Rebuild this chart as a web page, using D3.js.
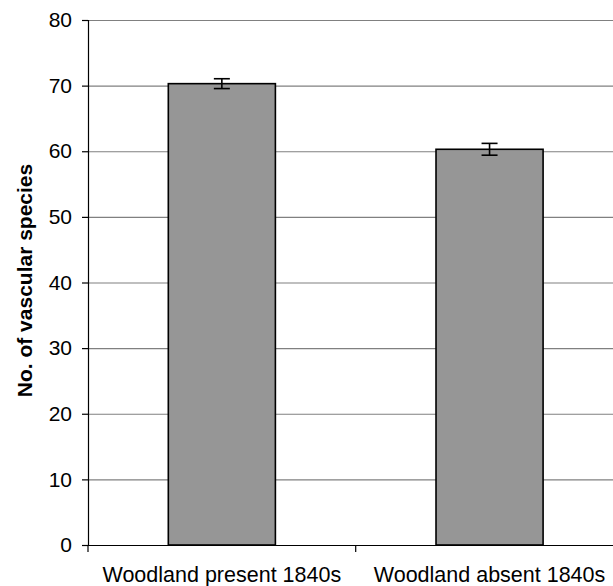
<!DOCTYPE html>
<html>
<head>
<meta charset="utf-8">
<script src="https://cdn.jsdelivr.net/npm/d3@7"></script>
<style>
  html, body { margin: 0; padding: 0; background: #fff; }
  svg { display: block; }
  text { font-family: "Liberation Sans", Arial, sans-serif; fill: #000; }
</style>
</head>
<body>
<svg id="chart" width="613" height="586"></svg>
<script>
const categories = ["Woodland present 1840s", "Woodland absent 1840s"];
const values = [70.3, 60.3];
const errors = [0.75, 0.9];
const yTicks = [0, 10, 20, 30, 40, 50, 60, 70, 80];
const yTitle = "No. of vascular species";

(function () {
const svg = d3.select("#chart");
const mLeft = 88, mRight = 623.4, mTop = 20, mBottom = 545;

const y = d3.scaleLinear().domain([0, 80]).range([mBottom, mTop]);
const x = d3.scaleBand().domain(categories).range([mLeft, mRight])
  .paddingInner(0.6).paddingOuter(0.3);

// gridlines
svg.append("g").selectAll("line").data(yTicks.filter(d => d > 0)).join("line")
  .attr("x1", mLeft).attr("x2", 613)
  .attr("y1", d => y(d) + 0.5).attr("y2", d => y(d) + 0.5)
  .attr("stroke", "#808080").attr("stroke-width", 1.2);

// bars
svg.append("g").selectAll("rect").data(categories).join("rect")
  .attr("x", d => x(d)).attr("width", x.bandwidth())
  .attr("y", (d, i) => y(values[i]))
  .attr("height", (d, i) => y(0) - y(values[i]))
  .attr("fill", "#969696").attr("stroke", "#000").attr("stroke-width", 1.6);

// error bars
const eb = svg.append("g").attr("stroke", "#000").attr("stroke-width", 1.6);
categories.forEach((c, i) => {
  const cx = x(c) + x.bandwidth() / 2;
  const y1 = y(values[i] + errors[i]), y2 = y(values[i] - errors[i]);
  eb.append("line").attr("x1", cx).attr("x2", cx).attr("y1", y1).attr("y2", y2);
  eb.append("line").attr("x1", cx - 8).attr("x2", cx + 8).attr("y1", y1).attr("y2", y1);
  eb.append("line").attr("x1", cx - 8).attr("x2", cx + 8).attr("y1", y2).attr("y2", y2);
});

// y axis
const yAxis = d3.axisLeft(y).tickValues(yTicks).tickSize(6).tickPadding(10);
const gy = svg.append("g").attr("transform", `translate(${mLeft},0)`).call(yAxis);
gy.select(".domain").attr("stroke", "#000").attr("stroke-width", 1.2);
gy.selectAll(".tick line").attr("stroke", "#000").attr("stroke-width", 1.2);
gy.selectAll(".tick text").style("font-size", "21px")
  .style("font-family", '"Liberation Sans", Arial, sans-serif');

// x axis line
svg.append("line").attr("x1", mLeft).attr("x2", 613)
  .attr("y1", mBottom + 0.5).attr("y2", mBottom + 0.5)
  .attr("stroke", "#000").attr("stroke-width", 1.2);

// x tick marks at category boundaries
const bounds = [mLeft].concat(categories.map(c => x(c) + x.bandwidth() + x.step() * 0.3));
svg.append("g").selectAll("line").data(bounds).join("line")
  .attr("x1", d => d).attr("x2", d => d)
  .attr("y1", mBottom).attr("y2", mBottom + 7)
  .attr("stroke", "#000").attr("stroke-width", 1.2);

// x labels
svg.append("g").selectAll("text").data(categories).join("text")
  .attr("x", d => x(d) + x.bandwidth() / 2)
  .attr("y", 582)
  .attr("text-anchor", "middle")
  .style("font-size", "21.5px")
  .text(d => d);

// y title
svg.append("text")
  .attr("transform", `translate(31.5, ${(mTop + mBottom) / 2 - 2}) rotate(-90)`)
  .attr("text-anchor", "middle")
  .style("font-size", "21px").style("font-weight", "bold")
  .text(yTitle);
})();
</script>
</body>
</html>
